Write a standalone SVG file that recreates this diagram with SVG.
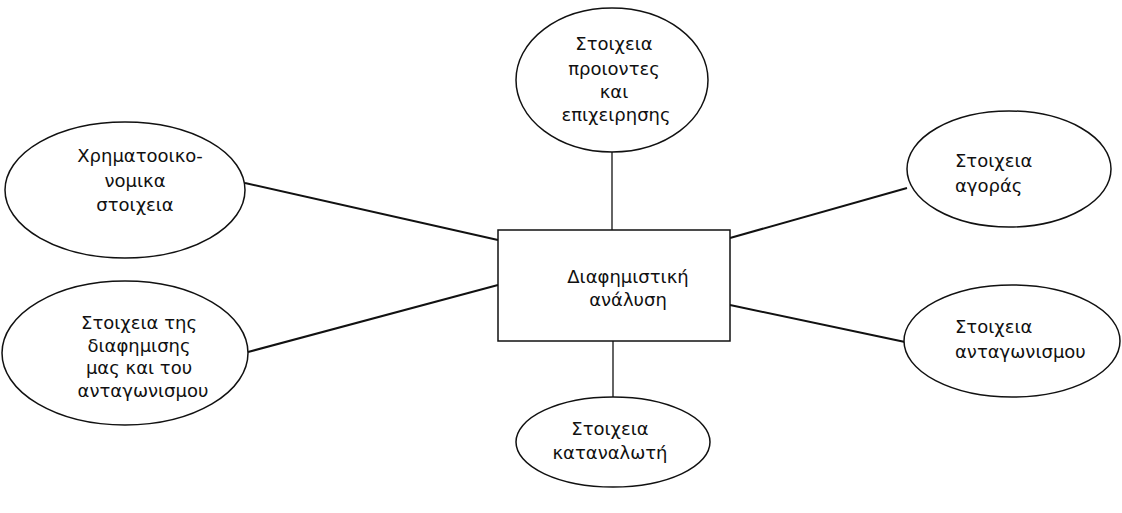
<svg xmlns="http://www.w3.org/2000/svg" width="1122" height="513" viewBox="0 0 1122 513">
<style>
.n{fill:#fff;stroke:#111;stroke-width:1.5}
.c{stroke:#111;stroke-width:2;fill:none}
.c1{stroke:#111;stroke-width:1.3;fill:none}
text{font-family:"DejaVu Sans","Noto Sans",sans-serif;font-size:18px;fill:#111;text-anchor:middle}
.l{text-anchor:start}
</style>
<rect width="1122" height="513" fill="#fff"/>
<g id="connectors">
<line class="c1" x1="612" y1="152" x2="612" y2="230"/>
<line class="c1" x1="613" y1="341" x2="613" y2="398"/>
<line class="c" x1="245" y1="183" x2="498" y2="240"/>
<line class="c" x1="248" y1="352" x2="498" y2="285"/>
<line class="c" x1="730" y1="238" x2="907" y2="188"/>
<line class="c" x1="730" y1="305" x2="905" y2="342"/>
</g>
<g id="center">
<rect class="n" x="498" y="230" width="232" height="111"/>
<text x="628" y="283">Διαφημιστική</text>
<text x="628" y="306">ανάλυση</text>
</g>
<g id="top">
<ellipse class="n" cx="612" cy="80" rx="96" ry="72"/>
<text x="614" y="50">Στοιχεια</text>
<text x="614" y="75">προιοντες</text>
<text x="614" y="98">και</text>
<text x="616" y="121">επιχειρησης</text>
</g>
<g id="left-top">
<ellipse class="n" cx="125" cy="190" rx="120" ry="68"/>
<text x="140" y="162">Χρηματοοικο-</text>
<text x="135" y="187">νομικα</text>
<text x="135" y="211">στοιχεια</text>
</g>
<g id="left-bottom">
<ellipse class="n" cx="125" cy="353" rx="123" ry="72"/>
<text x="139" y="329">Στοιχεια της</text>
<text x="139" y="352">διαφημισης</text>
<text x="139" y="374">μας και του</text>
<text x="143" y="397">ανταγωνισμου</text>
</g>
<g id="right-top">
<ellipse class="n" cx="1009" cy="169" rx="102" ry="58"/>
<text class="l" x="955" y="167">Στοιχεια</text>
<text class="l" x="955" y="192">αγοράς</text>
</g>
<g id="right-bottom">
<ellipse class="n" cx="1012" cy="341" rx="108" ry="56"/>
<text class="l" x="955" y="333">Στοιχεια</text>
<text class="l" x="955" y="358">ανταγωνισμου</text>
</g>
<g id="bottom">
<ellipse class="n" cx="613" cy="442" rx="97" ry="45"/>
<text x="610" y="435">Στοιχεια</text>
<text x="610" y="459">καταναλωτή</text>
</g>
</svg>
